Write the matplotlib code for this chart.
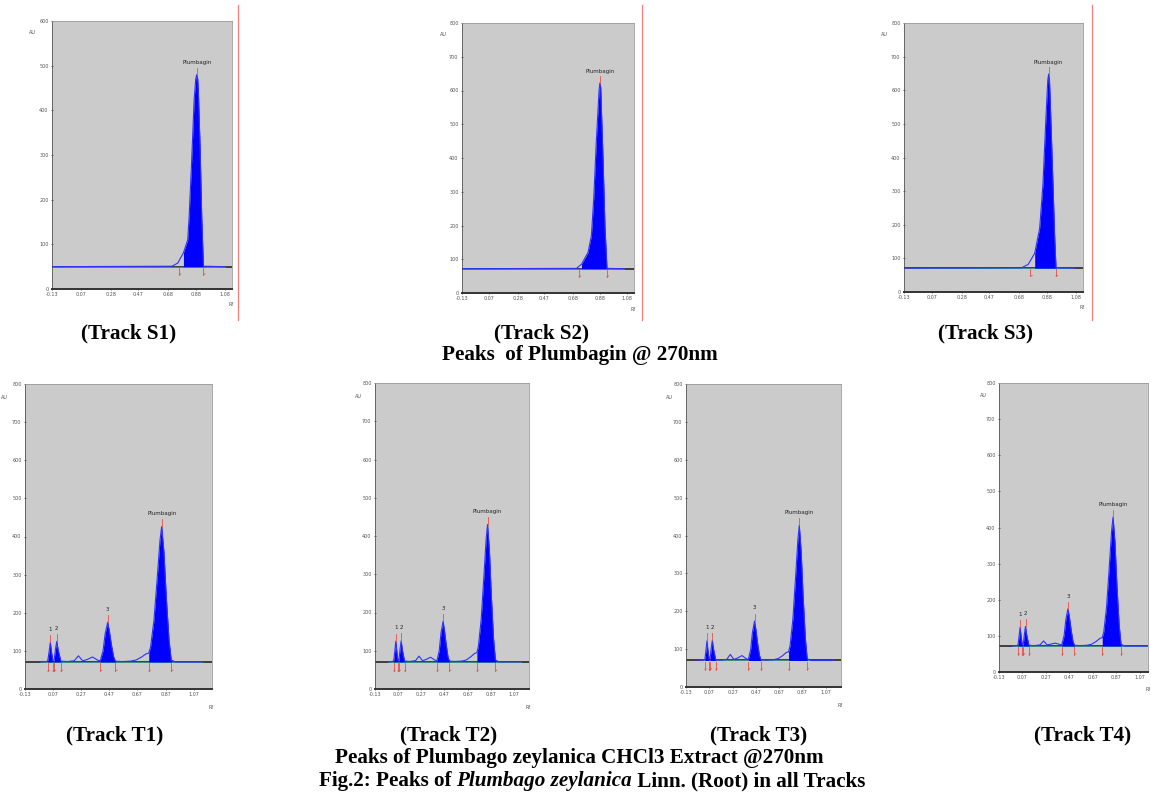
import matplotlib
matplotlib.use("Agg")
import matplotlib.pyplot as plt
from matplotlib.lines import Line2D
import numpy as np

W, H = 1151, 798

# ---- standard tracks (Plumbagin), Rf vs AU ----
s1_rf = [-0.13, 0.71, 0.75, 0.79, 0.82, 0.83, 0.846, 0.865, 0.876, 0.883, 0.89, 0.895, 0.907, 0.918, 0.93, 1.08]
s1_au = [50, 51, 58, 81, 110, 163, 275, 424, 470, 480, 470, 439, 312, 163, 51, 50]
s2_rf = [-0.13, 0.708, 0.745, 0.793, 0.818, 0.835, 0.854, 0.874, 0.88, 0.886, 0.89, 0.903, 0.917, 0.932, 1.06]
s2_au = [72, 73, 85, 120, 170, 280, 450, 600, 622, 610, 560, 400, 200, 73, 72]
s3_rf = [-0.13, 0.698, 0.744, 0.79, 0.825, 0.848, 0.867, 0.882, 0.888, 0.894, 0.90, 0.918, 0.93, 0.94, 1.07]
s3_au = [71, 72, 82, 115, 190, 320, 500, 630, 648, 630, 560, 330, 170, 72, 71]
s_base = [50, 72, 71]
s_ymax = [600, 800, 800]
s_ranges = [(0.76, 0.93), (0.728, 0.932), (0.76, 0.94)]
s_apex = [0.883, 0.88, 0.888]

# ---- sample tracks (CHCl3 extract) ----
t_rf = [-0.02, 0.02, 0.032, 0.042, 0.05, 0.058, 0.068, 0.077, 0.087, 0.096, 0.106, 0.125,
        0.17, 0.22, 0.25, 0.28, 0.31, 0.35, 0.39, 0.405, 0.425, 0.44, 0.458, 0.47, 0.485,
        0.50, 0.513, 0.56, 0.62, 0.66, 0.70, 0.73, 0.75, 0.763, 0.787, 0.81, 0.83, 0.842,
        0.858, 0.875, 0.894, 0.91, 0.94, 1.13]
t1_au = [71, 72, 74, 100, 122, 98, 75, 76, 105, 125, 102, 73,
         72, 74, 87, 74, 77, 84, 75, 74, 100, 145, 175, 152, 115,
         85, 73, 72, 73, 76, 84, 92, 94, 110, 180, 290, 390, 426,
         360, 240, 130, 76, 71, 71]
t2_au = [71, 72, 74, 102, 125, 100, 75, 76, 106, 126, 103, 73,
         72, 74, 86, 74, 77, 83, 75, 74, 101, 147, 177, 153, 116,
         85, 73, 72, 73, 76, 85, 93, 95, 112, 182, 293, 393, 430,
         363, 242, 131, 76, 71, 71]
t3_au = [70, 71, 73, 99, 122, 97, 74, 75, 104, 123, 101, 72,
         71, 73, 86, 73, 76, 83, 74, 73, 99, 144, 174, 151, 114,
         84, 72, 71, 72, 75, 83, 91, 93, 109, 179, 289, 389, 427,
         359, 239, 129, 75, 70, 70]
t4_au = [72, 73, 75, 101, 124, 99, 76, 77, 106, 126, 103, 74,
         73, 75, 86, 75, 77, 80, 76, 75, 101, 146, 175, 152, 116,
         86, 74, 73, 74, 77, 85, 93, 95, 111, 181, 292, 392, 429,
         362, 241, 131, 77, 72, 72]
t_base = [71, 71, 70, 72]
t_ranges = [(0.032, 0.068), (0.077, 0.125), (0.405, 0.513), (0.75, 0.91)]
t_apex = [0.05, 0.096, 0.458, 0.842]
t_names = ["1", "2", "3", "Plumbagin"]

s_xticks = [-0.13, 0.07, 0.28, 0.47, 0.68, 0.88, 1.08]
t_xticks = [-0.13, 0.07, 0.27, 0.47, 0.67, 0.87, 1.07]

# panel boxes in pixels: left, right, top, bottom
s_boxes = [(52, 232, 21, 289), (462, 634, 23, 293), (904, 1083, 23, 292)]
t_boxes = [(25, 212, 384, 689), (375, 529, 383, 689), (686, 841, 384, 687), (999, 1148, 383, 672)]
t_xmax = [1.20, 1.20, 1.20, 1.14]
s_redline = [238, 642, 1092]

BG = "#cbcbcb"
BLUE = "#0000ff"
RED = "#e8504a"


def make_ax(fig, box):
    l, r, t, b = box
    return fig.add_axes([l / W, 1 - b / H, (r - l) / W, (b - t) / H])


def draw_track(ax, rf, au, base, ymax, xlim, xticks, ranges, apexes, names, ystep):
    rf = np.array(rf)
    au = np.array(au, dtype=float)
    ax.set_facecolor(BG)
    ax.set_xlim(*xlim)
    ax.set_ylim(0, ymax)
    ax.axhline(base, color="#333333", lw=1.3, zorder=2)
    ax.plot([rf[0], rf[-1]], [base, base], color="#40b0a0", lw=0.5, zorder=2.5)
    for a, b in ranges:
        m = (rf >= a - 1e-9) & (rf <= b + 1e-9)
        ax.fill_between(rf[m], au[m], base, color=BLUE, lw=0, zorder=3)
        for x in (a, b):
            ax.plot([x, x], [base - 0.005 * ymax, base - 0.03 * ymax], color=RED, lw=0.6, zorder=4)
            ax.plot([x, x + 0.012], [base - 0.03 * ymax, base - 0.027 * ymax], color=RED, lw=0.6, zorder=4)
    ax.plot(rf, au, color="#3030ff", lw=0.8, zorder=3.5)
    for x, name in zip(apexes, names):
        top = np.interp(x, rf, au)
        ax.plot([x, x], [top, top + 0.025 * ymax], color=RED, lw=0.6, zorder=4)
        ax.text(x, top + 0.035 * ymax, name, ha="center", va="bottom", fontsize=4, color="#222222")
    ax.set_yticks(np.arange(0, ymax + 1, ystep))
    ax.set_yticklabels([str(int(v)) for v in np.arange(0, ymax + 1, ystep)])
    ax.set_xticks(xticks)
    ax.set_xticklabels([f"{v:.2f}" for v in xticks])
    ax.tick_params(labelsize=3.5, length=2, width=0.5,
                   direction="inout", pad=1.5, colors="#333333")
    for lab in ax.get_xticklabels() + ax.get_yticklabels():
        lab.set_color("#555555")
    for side in ("top", "right"):
        ax.spines[side].set_color("#9a9a9a")
        ax.spines[side].set_linewidth(0.6)
    ax.spines["left"].set_color("#555555")
    ax.spines["left"].set_linewidth(0.6)
    ax.spines["bottom"].set_color("#333333")
    ax.spines["bottom"].set_linewidth(1.4)
    ax.text(-0.13, 0.95, "AU", transform=ax.transAxes, fontsize=3.5, color="#555555")
    ax.text(0.98, -0.065, "Rf", transform=ax.transAxes, fontsize=3.5, color="#555555")


fig = plt.figure(figsize=(W / 100, H / 100), dpi=100)

s_data = [(s1_rf, s1_au), (s2_rf, s2_au), (s3_rf, s3_au)]
for i, (rf, au) in enumerate(s_data):
    ax = make_ax(fig, s_boxes[i])
    draw_track(ax, rf, au, s_base[i], s_ymax[i], (-0.13, 1.13), s_xticks,
               [s_ranges[i]], [s_apex[i]], ["Plumbagin"], 100)
    x = s_redline[i] / W
    fig.add_artist(Line2D([x, x], [1 - 5 / H, 1 - 320 / H], color="#f08080", lw=0.9))

t_data = [t1_au, t2_au, t3_au, t4_au]
for i, au in enumerate(t_data):
    ax = make_ax(fig, t_boxes[i])
    draw_track(ax, t_rf, au, t_base[i], 800, (-0.13, t_xmax[i]), t_xticks,
               t_ranges, t_apex, t_names, 100)

FS = 15.2
cap = dict(family="Liberation Serif", weight="bold", fontsize=FS, ha="center", va="center")
s_caps = [("(Track S1)", 129), ("(Track S2)", 542), ("(Track S3)", 986)]
t_caps = [("(Track T1)", 115), ("(Track T2)", 449), ("(Track T3)", 759), ("(Track T4)", 1083)]
for txt, x in s_caps:
    fig.text(x / W, 1 - 333 / H, txt, **cap)
for txt, x in t_caps:
    fig.text(x / W, 1 - 735 / H, txt, **cap)
fig.text(580 / W, 1 - 355 / H, "Peaks  of Plumbagin @ 270nm", **cap)
fig.text(579 / W, 1 - 758 / H, "Peaks of Plumbago zeylanica CHCl3 Extract @270nm", **cap)

# last caption line with an italic part
parts = [("Fig.2: Peaks of ", "normal"), ("Plumbago zeylanica", "italic"),
         (" Linn. (Root) in all Tracks", "normal")]
renderer = fig.canvas.get_renderer()
pieces = []
for txt, style in parts:
    t = fig.text(0, 1 - 781 / H, txt, family="Liberation Serif", weight="bold",
                 style=style, fontsize=FS, ha="left", va="center")
    pieces.append(t)
widths = [p.get_window_extent(renderer).width for p in pieces]
x0 = 592 - sum(widths) / 2
for p, w in zip(pieces, widths):
    p.set_x(x0 / W)
    x0 += w

fig.savefig("out.png", dpi=100)
